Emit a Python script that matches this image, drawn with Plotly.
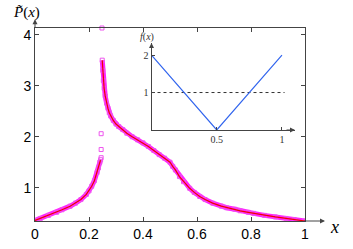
import plotly.graph_objects as go

# invariant density, branch left of the spike (x < 1/4)
x_left = [0, 0.02, 0.05, 0.08, 0.10, 0.13, 0.15, 0.17, 0.19, 0.20, 0.21, 0.22,
          0.23, 0.235, 0.24, 0.243]
p_left = [0.36, 0.40, 0.46, 0.52, 0.57, 0.64, 0.70, 0.77, 0.87, 0.94, 1.03, 1.14,
          1.30, 1.39, 1.50, 1.55]

# branch right of the spike
x_right = [0.249, 0.251, 0.253, 0.256, 0.26, 0.265, 0.27, 0.275, 0.28, 0.29, 0.30,
           0.31, 0.325, 0.34, 0.36, 0.38, 0.40, 0.42, 0.44, 0.46, 0.48, 0.50, 0.51,
           0.52, 0.535, 0.55, 0.573, 0.59, 0.61, 0.63, 0.658, 0.69, 0.71, 0.74, 0.76,
           0.79, 0.81, 0.85, 0.89, 0.93, 0.96, 1.0]
p_right = [3.50, 3.30, 3.10, 2.95, 2.80, 2.66, 2.56, 2.47, 2.41, 2.32, 2.25,
           2.20, 2.14, 2.07, 2.00, 1.94, 1.88, 1.81, 1.73, 1.65, 1.58, 1.50, 1.42,
           1.35, 1.22, 1.12, 0.99, 0.91, 0.83, 0.77, 0.70, 0.64, 0.61, 0.58, 0.55,
           0.52, 0.50, 0.46, 0.43, 0.40, 0.38, 0.35]

# stray histogram bins at the spike
x_spike = [0.245, 0.245, 0.245, 0.248]
p_spike = [1.59, 1.75, 2.06, 4.13]

# inset: the map f(x) and the level f = 1
f_x = [0, 0.5, 1]
f_y = [2, 0, 2]
lvl_x = [0, 1.02]
lvl_y = [1, 1]

x_ticks = [0, 0.2, 0.4, 0.6, 0.8, 1]
x_ticktext = ["0", "0.2", "0.4", "0.6", "0.8", "1"]
y_ticks = [1, 2, 3, 4]

MAG = "#ff00ff"
RED = "#ee0000"
AX = "#444444"
SERIF = "Liberation Serif"

fig = go.Figure()

for xs, ys in [(x_left, p_left), (x_right, p_right)]:
    fig.add_trace(go.Scatter(x=xs, y=ys, mode="lines",
                             line=dict(color=MAG, width=5), opacity=0.85,
                             hoverinfo="skip"))
    fig.add_trace(go.Scatter(x=xs, y=ys, mode="markers",
                             marker=dict(symbol="square-open", size=4, color="#ee55ee",
                                         line=dict(width=1))))
    fig.add_trace(go.Scatter(x=xs, y=ys, mode="lines", line=dict(color=RED, width=1.2)))

fig.add_trace(go.Scatter(x=x_spike, y=p_spike, mode="markers", cliponaxis=False,
                         marker=dict(symbol="square-open", size=4, color="#ee55ee",
                                     line=dict(width=1))))

# inset
fig.add_trace(go.Scatter(x=lvl_x, y=lvl_y, xaxis="x2", yaxis="y2", mode="lines",
                         line=dict(color="#333333", width=1, dash="dot")))
fig.add_trace(go.Scatter(x=f_x, y=f_y, xaxis="x2", yaxis="y2", mode="lines",
                         line=dict(color="#3366ee", width=1.2)))

def arrow(x, y, ax, ay, xref="paper", yref="paper"):
    return dict(x=x, y=y, ax=ax, ay=ay, xref=xref, yref=yref, text="",
                showarrow=True, arrowhead=2, arrowsize=1, arrowwidth=1,
                arrowcolor=AX)

def label(text, x, y, size, xref="paper", yref="paper", color="black"):
    return dict(x=x, y=y, xref=xref, yref=yref, text=text, showarrow=False,
                xanchor="center", yanchor="middle",
                font=dict(family=SERIF, size=size, color=color))

annotations = [
    arrow(1.074, 0, -22, 0),
    arrow(0, 1.045, 0, 10),
    arrow(1.1, 0, -10, 0, "x2", "y2"),
    arrow(0, 2.32, 0, 10, "x2", "y2"),
    label("<i>P̃</i>(<i>x</i>)", -0.03, 1.078, 15),
    label("<i>x</i>", 1.11, -0.03, 18),
    label("<i>f</i>(<i>x</i>)", 0.415, 0.955, 10, color="#333333"),
    label("<i>x</i>", 1.13, -0.19, 11, "x2", "y2", color="#333333"),
    label("0", -0.034, -0.15, 10, "x2", "y2", color="#333333"),
]

fig.update_layout(
    width=353, height=249,
    margin=dict(l=35, r=48, t=28, b=28, autoexpand=False),
    paper_bgcolor="white", plot_bgcolor="white",
    showlegend=False,
    xaxis=dict(range=[0, 1], tickvals=x_ticks, ticktext=x_ticktext,
               showgrid=False, zeroline=False, showline=True, linecolor=AX,
               linewidth=1, mirror="ticks", ticks="inside", ticklen=4,
               tickcolor=AX, tickfont=dict(family="Liberation Sans", size=14,
                                           color="black")),
    yaxis=dict(range=[0.35, 4.13], tickvals=y_ticks, showgrid=False,
               zeroline=False, showline=True, linecolor=AX, linewidth=1,
               mirror="ticks", ticks="inside", ticklen=4, tickcolor=AX,
               tickfont=dict(family="Liberation Sans", size=14, color="black")),
    xaxis2=dict(domain=[0.4315, 0.963], range=[0, 1.1], anchor="y2",
                tickvals=[0.5, 1], ticktext=["0.5", "1"], showgrid=False,
                zeroline=False, showline=True, linecolor=AX, linewidth=1,
                ticks="inside", ticklen=3, tickcolor=AX,
                tickfont=dict(family=SERIF, size=10, color="#333333")),
    yaxis2=dict(domain=[0.4715, 0.922], range=[0, 2.32], anchor="x2",
                tickvals=[1, 2], showgrid=False, zeroline=False, showline=True,
                linecolor=AX, linewidth=1, ticks="inside", ticklen=3,
                tickcolor=AX, tickfont=dict(family=SERIF, size=10, color="#333333")),
    annotations=annotations,
)

# drop the default page margin so the figure sits at the window's corner
fig.write_html("out.html", config={"displayModeBar": False},
               post_script="document.body.style.margin = '0';")
